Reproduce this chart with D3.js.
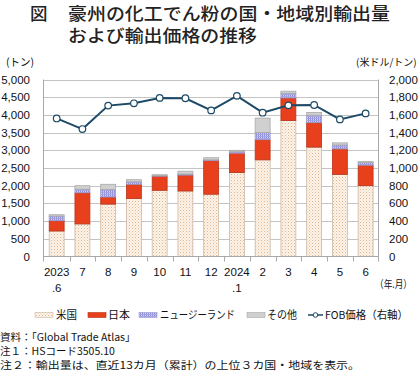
<!DOCTYPE html>
<html><head><meta charset="utf-8">
<script src="https://cdn.jsdelivr.net/npm/d3@7"></script>
<style>
html,body{margin:0;padding:0;background:#fff;}
svg{display:block;font-family:"Liberation Sans",Arial,"Noto Sans CJK JP",sans-serif;}
.jp{font-family:"Noto Sans CJK JP","Liberation Sans",sans-serif;}
</style></head><body>
<svg id="c" width="420" height="372"></svg>
<script>
const months = ["2023.6","7","8","9","10","11","12","2024.1","2","3","4","5","6"];
const monthTop = ["2023","7","8","9","10","11","12","2024","2","3","4","5","6"];
const monthSub = [".6","","","","","","",".1","","","","",""];
const usVals    = [720, 920, 1480, 1640, 1870, 1850, 1760, 2370, 2730, 3840, 3090, 2320, 2000];
const japanVals = [290, 880, 200, 400, 400, 450, 950, 550, 570, 640, 690, 720, 580];
const nzVals    = [130, 100, 210, 70, 10, 30, 20, 40, 200, 130, 210, 110, 70];
const otherVals = [40, 100, 150, 60, 30, 80, 60, 40, 410, 60, 80, 60, 30];
const fobPrice  = [1560, 1440, 1705, 1731, 1792, 1788, 1651, 1815, 1625, 1708, 1712, 1549, 1617];
const leftTicks = [0,500,1000,1500,2000,2500,3000,3500,4000,4500,5000];
const rightTicks = [0,200,400,600,800,1000,1200,1400,1600,1800,2000];
const seriesNames = ["米国","日本","ニュージーランド","その他"];

const svg = d3.select("#c");
const defs = svg.append("defs");
const pUS = defs.append("pattern").attr("id","pUS").attr("patternUnits","userSpaceOnUse").attr("width",3).attr("height",3);
pUS.append("rect").attr("width",3).attr("height",3).attr("fill","#fcf4ea");
pUS.append("rect").attr("x",0).attr("y",0).attr("width",1).attr("height",1).attr("fill","#e3b48a");
pUS.append("rect").attr("x",1.5).attr("y",1.5).attr("width",1).attr("height",1).attr("fill","#efcfae");
const pNZ = defs.append("pattern").attr("id","pNZ").attr("patternUnits","userSpaceOnUse").attr("width",2).attr("height",2);
pNZ.append("rect").attr("width",2).attr("height",2).attr("fill","#d4d4f4");
pNZ.append("rect").attr("x",0).attr("y",0).attr("width",1).attr("height",2).attr("fill","#8a8ad8");
pNZ.append("rect").attr("x",0).attr("y",0).attr("width",2).attr("height",1).attr("fill","#a6a6e4");

const fills = ["url(#pUS)","#e8401c","url(#pNZ)","#d0d0d0"];
const strokes = ["#cbb9a6","#b8341a","#9a9ad0","#a8a8a8"];

const x0 = 43.5, x1 = 378.5, yB = 256.5, yT = 79.5;
const x = d3.scaleBand().domain(months).range([x0+0.3, x1]).paddingInner(0.42).paddingOuter(0.21);
const yL = d3.scaleLinear().domain([0,5000]).range([yB,yT]);
const yR = d3.scaleLinear().domain([0,2000]).range([yB,yT]);

svg.append("g").selectAll("line").data(leftTicks.slice(1)).join("line")
  .attr("x1",x0).attr("x2",x1).attr("y1",d=>Math.round(yL(d))+0.5).attr("y2",d=>Math.round(yL(d))+0.5)
  .attr("stroke","#c4c4c4").attr("stroke-width",1);

const data = months.map((m,i)=>({m, us:usVals[i], jp:japanVals[i], nz:nzVals[i], ot:otherVals[i]}));
const stack = d3.stack().keys(["us","jp","nz","ot"])(data);
stack.forEach((layer,k)=>{
  svg.append("g").selectAll("rect").data(layer).join("rect")
    .attr("x",d=>x(d.data.m)).attr("width",x.bandwidth())
    .attr("y",d=>yL(d[1])).attr("height",d=>yL(d[0])-yL(d[1]))
    .attr("fill",fills[k]).attr("stroke",strokes[k]).attr("stroke-width",0.8);
});

svg.append("line").attr("x1",x0).attr("x2",x0).attr("y1",yT).attr("y2",yB+5).attr("stroke","#a8a8a8");
svg.append("line").attr("x1",x1).attr("x2",x1).attr("y1",yT).attr("y2",yB+5).attr("stroke","#a8a8a8");
svg.append("line").attr("x1",x0).attr("x2",x1).attr("y1",yB).attr("y2",yB).attr("stroke","#a8a8a8");
const step = x.step();
const bounds = d3.range(1,13).map(i=>x(months[i]) - step*x.paddingInner()/2);
svg.append("g").selectAll("line").data(bounds).join("line")
  .attr("x1",d=>Math.round(d)+0.5).attr("x2",d=>Math.round(d)+0.5).attr("y1",yB).attr("y2",yB+5).attr("stroke","#a8a8a8");

const fmt = d3.format(",");
svg.append("g").selectAll("text").data(leftTicks).join("text")
  .attr("x",30).attr("y",d=>yL(d)+4).attr("text-anchor","end")
  .attr("font-size",11.5).attr("fill","#111").text(d=>fmt(d));
svg.append("g").selectAll("text").data(rightTicks).join("text")
  .attr("x",389).attr("y",d=>yR(d)+4).attr("text-anchor","start")
  .attr("font-size",11.5).attr("fill","#111").text(d=>fmt(d));

const cx = m => x(m)+x.bandwidth()/2;
svg.append("g").selectAll("text").data(months).join("text")
  .attr("x",m=>cx(m)).attr("y",276).attr("text-anchor","middle")
  .attr("font-size",11.5).attr("fill","#111").text((m,i)=>monthTop[i]);
svg.append("g").selectAll("text").data(months).join("text")
  .attr("x",m=>cx(m)).attr("y",292).attr("text-anchor","middle")
  .attr("font-size",11.5).attr("fill","#111").text((m,i)=>monthSub[i]);
svg.append("text").attr("class","jp").attr("x",375).attr("y",288).attr("font-size",10.5)
  .attr("textLength",37).attr("lengthAdjust","spacingAndGlyphs").attr("fill","#111").text("（年.月）");

svg.append("text").attr("class","jp").attr("x",6).attr("y",66).attr("font-size",10.5)
  .attr("fill","#111").text("(トン)");
svg.append("text").attr("class","jp").attr("x",356).attr("y",66).attr("font-size",10)
  .attr("fill","#111").text("(米ドル/トン)");

const line = d3.line().x((d,i)=>cx(months[i])).y(d=>yR(d));
svg.append("path").datum(fobPrice).attr("d",line).attr("fill","none").attr("stroke","#1d4a66").attr("stroke-width",2);
svg.append("g").selectAll("circle").data(fobPrice).join("circle")
  .attr("cx",(d,i)=>cx(months[i])).attr("cy",d=>yR(d)).attr("r",3.3)
  .attr("fill","#fff").attr("stroke","#1d4a66").attr("stroke-width",1.2);

svg.append("text").attr("class","jp").attr("x",30).attr("y",20).attr("font-size",17.5).attr("font-weight",500).attr("fill","#222").text("図");
svg.append("text").attr("class","jp").attr("x",68).attr("y",20).attr("font-size",17.5).attr("font-weight",500)
  .attr("textLength",322).attr("lengthAdjust","spacingAndGlyphs").attr("fill","#222").text("豪州の化工でん粉の国・地域別輸出量");
svg.append("text").attr("class","jp").attr("x",68).attr("y",41.5).attr("font-size",17.5).attr("font-weight",500)
  .attr("textLength",189).attr("lengthAdjust","spacingAndGlyphs").attr("fill","#222").text("および輸出価格の推移");

const ly = 315;
const legX = [35, 88, 139, 247];
const legTX = [56, 108, 160, 267];
const legTW = [21, 22, 75, 30];
seriesNames.forEach((n,k)=>{
  svg.append("rect").attr("x",legX[k]).attr("y",ly-2.5).attr("width",18).attr("height",5)
    .attr("fill",fills[k]).attr("stroke",strokes[k]).attr("stroke-width",0.6);
  svg.append("text").attr("class","jp").attr("x",legTX[k]).attr("y",ly+4).attr("font-size",11)
    .attr("textLength",legTW[k]).attr("lengthAdjust","spacingAndGlyphs").attr("fill","#111").text(n);
});
svg.append("line").attr("x1",308).attr("x2",323).attr("y1",ly).attr("y2",ly).attr("stroke","#1d4a66").attr("stroke-width",1.5);
svg.append("circle").attr("cx",315.5).attr("cy",ly).attr("r",2.3).attr("fill","#fff").attr("stroke","#1d4a66");
svg.append("text").attr("class","jp").attr("x",325).attr("y",ly+4).attr("font-size",11)
  .attr("textLength",83).attr("lengthAdjust","spacingAndGlyphs").attr("fill","#111").text("FOB価格（右軸）");

const notes = ["資料：「Global Trade Atlas」","注１：HSコード3505.10","注２：輸出量は、直近13カ月（累計）の上位３カ国・地域を表示。"];
const noteW = [null, null, 360];
svg.append("g").selectAll("text").data(notes).join("text").attr("class","jp")
  .attr("x",0).attr("y",(d,i)=>341+i*14.2).attr("font-size",10.5).attr("fill","#111")
  .each(function(d,i){ if(noteW[i]) d3.select(this).attr("textLength",noteW[i]).attr("lengthAdjust","spacingAndGlyphs"); })
  .text(d=>d);
</script>
</body></html>
